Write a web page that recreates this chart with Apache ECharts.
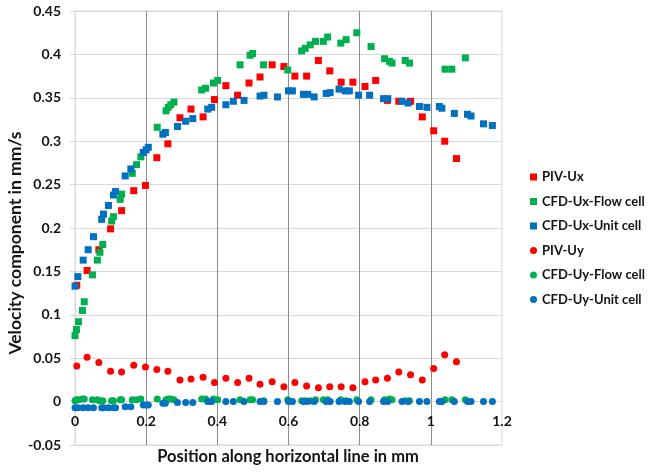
<!DOCTYPE html>
<html>
<head>
<meta charset="utf-8">
<script src="https://cdn.jsdelivr.net/npm/echarts@6/dist/echarts.min.js"></script>
<style>
html,body{margin:0;padding:0;background:#fff;}
#c{width:651px;height:472px;}
</style>
</head>
<body>
<div id="c"></div>
<script>
// ---- data ----
const seriesNames = ["PIV-Ux","CFD-Ux-Flow cell","CFD-Ux-Unit cell","PIV-Uy","CFD-Uy-Flow cell","CFD-Uy-Unit cell"];

const pivX = [0.005,0.034,0.067,0.1,0.131,0.165,0.198,0.23,0.261,0.295,0.326,0.36,0.392,0.424,0.457,0.489,0.52,0.554,0.587,0.618,0.651,0.684,0.716,0.748,0.781,0.815,0.845,0.878,0.91,0.943,0.976,1.008,1.039,1.072];
const pivUx = [0.134,0.151,0.175,0.199,0.22,0.243,0.249,0.281,0.297,0.327,0.337,0.328,0.348,0.364,0.353,0.367,0.374,0.388,0.386,0.375,0.375,0.393,0.381,0.368,0.368,0.363,0.37,0.347,0.346,0.346,0.328,0.312,0.3,0.28];
const pivUy = [0.041,0.051,0.045,0.035,0.034,0.042,0.04,0.037,0.035,0.025,0.026,0.028,0.022,0.027,0.022,0.027,0.02,0.023,0.017,0.022,0.018,0.016,0.017,0.017,0.016,0.023,0.025,0.027,0.034,0.031,0.025,0.038,0.054,0.046];

const flowX = [0,0.004,0.01,0.021,0.026,0.049,0.063,0.07,0.078,0.103,0.108,0.127,0.131,0.161,0.173,0.185,0.231,0.256,0.262,0.269,0.278,0.356,0.367,0.389,0.401,0.464,0.492,0.499,0.53,0.598,0.637,0.647,0.661,0.676,0.698,0.71,0.747,0.762,0.792,0.832,0.87,0.884,0.891,0.928,0.94,1.04,1.059,1.097];
const flowUx = [0.076,0.083,0.092,0.105,0.115,0.146,0.163,0.172,0.181,0.208,0.213,0.233,0.239,0.263,0.273,0.282,0.316,0.335,0.339,0.342,0.345,0.359,0.361,0.367,0.37,0.388,0.399,0.401,0.388,0.382,0.404,0.407,0.411,0.415,0.415,0.42,0.413,0.417,0.425,0.409,0.395,0.392,0.39,0.393,0.39,0.383,0.383,0.396];
const flowUy = [0.001,0.002,0.002,0.003,0.003,0.002,0.002,0.001,0.001,0.001,0.001,0.002,0.002,0.002,0.002,0.003,0.003,0.002,0.003,0.003,0.002,0.003,0.003,0.003,0.002,0.002,0.002,0.002,0.001,0.002,0.001,0.001,0.001,0.002,0.002,0.002,0.002,0.001,0.002,0.002,0.002,0.003,0.002,0.001,0.001,0.002,0.002,0.002];

const unitX = [0,0.008,0.023,0.037,0.052,0.075,0.08,0.094,0.108,0.114,0.141,0.157,0.192,0.2,0.206,0.247,0.254,0.288,0.311,0.331,0.373,0.384,0.424,0.445,0.475,0.52,0.531,0.569,0.6,0.611,0.642,0.654,0.672,0.706,0.717,0.742,0.759,0.771,0.797,0.828,0.867,0.879,0.919,0.936,0.968,0.989,1.024,1.031,1.066,1.103,1.113,1.148,1.173];
const unitUx = [0.133,0.144,0.163,0.175,0.19,0.21,0.216,0.226,0.238,0.242,0.26,0.268,0.287,0.29,0.293,0.308,0.31,0.317,0.323,0.326,0.337,0.339,0.342,0.346,0.347,0.352,0.353,0.351,0.358,0.358,0.354,0.354,0.351,0.355,0.356,0.36,0.358,0.358,0.353,0.353,0.349,0.349,0.346,0.344,0.34,0.339,0.34,0.338,0.332,0.331,0.329,0.32,0.318];
const unitUy = [-0.007,-0.007,-0.007,-0.007,-0.007,-0.007,-0.007,-0.007,-0.007,-0.007,-0.006,-0.006,-0.004,-0.004,-0.004,-0.002,-0.002,-0.001,-0.001,-0.001,0,0,0,0,0,0,0,0,0,0,0,0,0,0,0,0,0,0,0,0,0,0,0,0,0,0,0,0,0,0,0,0,0];

const xTicks = ["0","0.2","0.4","0.6","0.8","1","1.2"];
const yTicks = ["-0.05","0","0.05","0.1","0.15","0.2","0.25","0.3","0.35","0.4","0.45"];
const xTitle = "Position along horizontal line in mm";
const yTitle = "Velocity component in mm/s";

const colors = ["#ff0000","#00b050","#0070c0","#ff0000","#00b050","#0070c0"];
const symbols = ["rect","rect","rect","circle","circle","circle"];

function zip(xs, ys){ return xs.map((x,i)=>[x, ys[i]]); }
const seriesData = [zip(pivX,pivUx), zip(flowX,flowUx), zip(unitX,unitUx), zip(pivX,pivUy), zip(flowX,flowUy), zip(unitX,unitUy)];

const FONT = "Lato";
const TXT = '#141414';
const GRID_TOP = 11, GRID_BOTTOM = 27, H = 472;
const plotH = H - GRID_TOP - GRID_BOTTOM;
// distance from the bottom of the plot (-0.05) up to the zero line
const zeroOffset = plotH * (0 - (-0.05)) / (0.45 - (-0.05));

const chart = echarts.init(document.getElementById('c'), null, {renderer:'canvas'});
chart.setOption({
  animation:false,
  backgroundColor:'#fff',
  grid:{left:75,right:149,top:GRID_TOP,bottom:GRID_BOTTOM,show:true,borderColor:'#d9d9d9',borderWidth:1,backgroundColor:'transparent'},
  xAxis:{
    type:'value',min:0,max:1.2,interval:0.2,position:'bottom',offset:-zeroOffset,
    axisLine:{show:true,onZero:false,lineStyle:{color:'#d9d9d9',width:1}},
    axisTick:{show:false},
    axisLabel:{margin:13,color:TXT,fontFamily:FONT,fontWeight:'bold',fontSize:14,
      formatter:(v)=>{const i=Math.round(v/0.2);return xTicks[i]!==undefined?xTicks[i]:'';}},
    splitLine:{show:true,showMinLine:false,showMaxLine:false,lineStyle:{color:'#8c8c8c',width:1}}
  },
  yAxis:{
    type:'value',min:-0.05,max:0.45,interval:0.05,
    axisLine:{show:true,lineStyle:{color:'#d9d9d9',width:1}},
    axisTick:{show:true,length:5,lineStyle:{color:'#d9d9d9'}},
    axisLabel:{margin:14,color:TXT,fontFamily:FONT,fontWeight:'bold',fontSize:14,
      formatter:(v)=>{const i=Math.round((v+0.05)/0.05);return yTicks[i]!==undefined?yTicks[i]:'';}},
    splitLine:{show:true,lineStyle:{color:'#d9d9d9',width:1}}
  },
  graphic:[
    {type:'text',x:288,y:457,
     style:{text:xTitle,fill:TXT,font:'bold 16.5px Lato',align:'center',verticalAlign:'middle'}},
    {type:'text',x:15,y:243,rotation:Math.PI/2,
     style:{text:yTitle,fill:TXT,font:'bold 17.5px Lato',align:'center',verticalAlign:'middle'}}
  ],
  legend:{
    orient:'vertical',left:530,top:170,padding:0,itemWidth:7,itemHeight:7,itemGap:10.5,
    selectedMode:false,
    textStyle:{color:TXT,fontFamily:FONT,fontWeight:'bold',fontSize:13,lineHeight:14},
    data:seriesNames.map((n,i)=>({name:n,icon:symbols[i]}))
  },
  series:seriesNames.map((n,i)=>({
    name:n,type:'scatter',data:seriesData[i],symbol:symbols[i],symbolSize:7,
    itemStyle:{color:colors[i],opacity:1},
    emphasis:{disabled:true}
  }))
});
</script>
</body>
</html>
